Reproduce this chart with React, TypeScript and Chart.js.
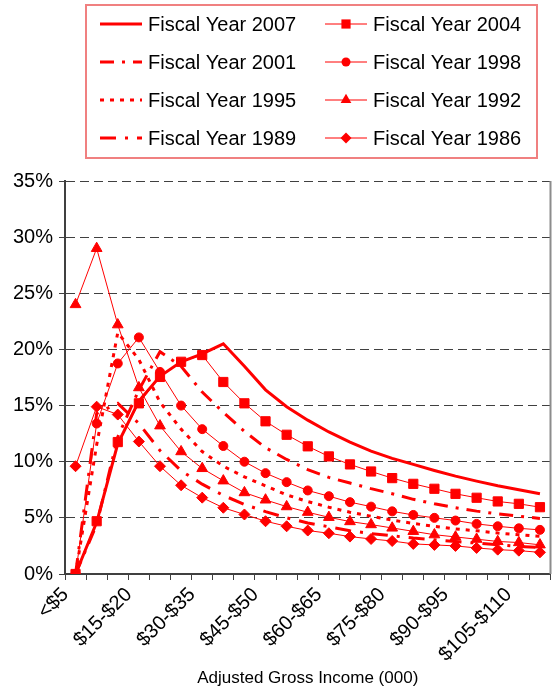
import React, { useEffect, useRef } from 'react';
import { Chart, registerables } from 'chart.js';

Chart.register(...registerables);

const categories = [
  '<$5', '$5-$10', '$10-$15', '$15-$20', '$20-$25', '$25-$30', '$30-$35', '$35-$40',
  '$40-$45', '$45-$50', '$50-$55', '$55-$60', '$60-$65', '$65-$70', '$70-$75', '$75-$80',
  '$80-$85', '$85-$90', '$90-$95', '$95-$100', '$100-$105', '$105-$110', '>$110',
];

const yTicks = [0, 5, 10, 15, 20, 25, 30, 35];

const fy2007 = [0, 4.6, 11.6, 15.4, 17.6, 18.9, 19.6, 20.5, 18.5, 16.4, 14.9, 13.7, 12.65, 11.75, 10.95, 10.3, 9.76, 9.22, 8.72, 8.27, 7.86, 7.5, 7.14];
const fy2004 = [0, 4.7, 11.75, 15.2, 17.55, 18.9, 19.5, 17.1, 15.2, 13.6, 12.4, 11.37, 10.47, 9.76, 9.13, 8.54, 8.03, 7.59, 7.14, 6.79, 6.46, 6.25, 5.95];
const fy2001 = [0, 4.4, 12.2, 16.4, 19.8, 18.5, 16.2, 14.4, 12.7, 11.25, 10.2, 9.3, 8.6, 8.1, 7.6, 7.15, 6.65, 6.25, 5.9, 5.6, 5.35, 5.15, 4.95];
const fy1998 = [0, 13.4, 18.75, 21.07, 18.0, 15.0, 12.9, 11.4, 10.0, 8.98, 8.18, 7.44, 6.93, 6.4, 6.0, 5.58, 5.26, 5.0, 4.76, 4.46, 4.25, 4.07, 3.93];
const fy1995 = [0, 11.5, 21.5, 19.1, 15.3, 12.9, 10.9, 9.6, 8.65, 7.85, 7.05, 6.45, 5.95, 5.5, 5.15, 4.8, 4.5, 4.25, 4.02, 3.85, 3.65, 3.5, 3.35];
const fy1992 = [24.0, 29.0, 22.2, 16.6, 13.2, 10.9, 9.4, 8.3, 7.25, 6.6, 6.0, 5.5, 5.05, 4.67, 4.4, 4.1, 3.8, 3.5, 3.3, 3.1, 2.9, 2.8, 2.6];
const fy1989 = [0, 14.3, 15.2, 13.4, 11.0, 9.2, 8.0, 7.0, 6.2, 5.55, 5.0, 4.55, 4.2, 3.85, 3.6, 3.4, 3.2, 3.05, 2.9, 2.75, 2.6, 2.45, 2.35];
const fy1986 = [9.6, 14.9, 14.2, 11.8, 9.6, 7.9, 6.8, 5.9, 5.3, 4.7, 4.25, 3.87, 3.63, 3.33, 3.12, 2.94, 2.68, 2.59, 2.5, 2.32, 2.17, 2.08, 1.93];

const seriesLabels = [
  'Fiscal Year 2007', 'Fiscal Year 2004', 'Fiscal Year 2001', 'Fiscal Year 1998',
  'Fiscal Year 1995', 'Fiscal Year 1992', 'Fiscal Year 1989', 'Fiscal Year 1986',
];
const seriesData = [fy2007, fy2004, fy2001, fy1998, fy1995, fy1992, fy1989, fy1986];

const RED = '#ff0000';
const FONT = "'Liberation Sans', Arial, sans-serif";

type Style = { width: number; dash: number[]; point: string | null; radius: number };
const styles: Style[] = [
  { width: 3, dash: [], point: null, radius: 0 },
  { width: 1, dash: [], point: 'rect', radius: 6.5 },
  { width: 3, dash: [14, 8, 3, 8], point: null, radius: 0 },
  { width: 1, dash: [], point: 'circle', radius: 4.5 },
  { width: 3, dash: [4, 6], point: null, radius: 0 },
  { width: 1, dash: [], point: 'triangle', radius: 6.2 },
  { width: 3, dash: [16, 9, 3, 9], point: null, radius: 0 },
  { width: 1, dash: [], point: 'rectRot', radius: 5.5 },
];

function drawMarker(ctx: CanvasRenderingContext2D, style: string, x: number, y: number, r: number) {
  ctx.beginPath();
  if (style === 'rect') {
    const s = r * Math.SQRT1_2;
    ctx.rect(x - s, y - s, 2 * s, 2 * s);
  } else if (style === 'circle') {
    ctx.arc(x, y, r, 0, Math.PI * 2);
  } else if (style === 'triangle') {
    ctx.moveTo(x, y - r);
    ctx.lineTo(x + 0.866 * r, y + 0.5 * r);
    ctx.lineTo(x - 0.866 * r, y + 0.5 * r);
    ctx.closePath();
  } else if (style === 'rectRot') {
    ctx.moveTo(x - r, y);
    ctx.lineTo(x, y - r);
    ctx.lineTo(x + r, y);
    ctx.lineTo(x, y + r);
    ctx.closePath();
  }
  ctx.fill();
}

const boxLegend = {
  id: 'boxLegend',
  afterDraw(chart: any) {
    const ctx: CanvasRenderingContext2D = chart.ctx;
    const area = chart.chartArea;
    ctx.save();
    ctx.strokeStyle = '#8c8c8c';
    ctx.lineWidth = 2;
    ctx.setLineDash([]);
    ctx.beginPath();
    ctx.moveTo(area.right, area.top);
    ctx.lineTo(area.right, area.bottom);
    ctx.stroke();

    ctx.strokeStyle = 'rgb(240,128,128)';
    ctx.lineWidth = 2;
    ctx.strokeRect(86, 5, 451, 153);

    const cols = [100, 325];
    const rowY0 = 24;
    const rowGap = 38;
    chart.data.datasets.forEach((ds: any, i: number) => {
      const st = styles[i];
      const x0 = cols[i % 2];
      const y = rowY0 + Math.floor(i / 2) * rowGap;
      ctx.strokeStyle = RED;
      ctx.fillStyle = RED;
      ctx.lineWidth = st.width;
      ctx.setLineDash(st.dash);
      ctx.beginPath();
      ctx.moveTo(x0, y);
      ctx.lineTo(x0 + 42, y);
      ctx.stroke();
      ctx.setLineDash([]);
      if (st.point) drawMarker(ctx, st.point, x0 + 21, y, st.radius);
      ctx.fillStyle = '#000';
      ctx.font = `20px ${FONT}`;
      ctx.textBaseline = 'middle';
      ctx.textAlign = 'left';
      ctx.fillText(ds.label, x0 + 48, y + 1);
    });
    ctx.restore();
  },
};

export default function App() {
  const ref = useRef<HTMLCanvasElement | null>(null);
  useEffect(() => {
    if (!ref.current) return;
    const chart = new Chart(ref.current, {
      type: 'line',
      data: {
        labels: categories,
        datasets: seriesData.map((d, i) => ({
          label: seriesLabels[i],
          data: d,
          borderColor: RED,
          backgroundColor: RED,
          borderWidth: styles[i].width,
          borderDash: styles[i].dash,
          borderCapStyle: 'butt',
          borderJoinStyle: 'miter',
          tension: 0,
          fill: false,
          pointStyle: (styles[i].point || 'circle') as any,
          pointRadius: styles[i].radius,
          pointBorderWidth: styles[i].point ? 1 : 0,
          pointBorderColor: RED,
          pointBackgroundColor: RED,
          pointHoverRadius: styles[i].radius,
        })),
      },
      options: {
        animation: false,
        responsive: false,
        devicePixelRatio: 1,
        layout: { padding: { top: 181, right: 3, bottom: 0, left: 0 } },
        plugins: {
          legend: { display: false },
          tooltip: { enabled: false },
          title: { display: false },
        },
        scales: {
          x: {
            type: 'category',
            offset: true,
            afterFit: (scale: any) => {
              scale.height = 116;
              scale.paddingLeft = 0;
              scale.paddingRight = 0;
            },
            grid: {
              offset: true,
              drawOnChartArea: false,
              drawTicks: true,
              tickLength: 6,
              tickColor: '#404040',
              tickWidth: 1,
            },
            border: { display: true, color: '#404040', width: 2 },
            ticks: {
              autoSkip: false,
              maxRotation: 45,
              minRotation: 45,
              padding: 3,
              labelOffset: -10,
              color: '#000',
              font: { family: FONT, size: 20 },
              callback: (_v: any, index: number) => (index % 3 === 0 ? categories[index] : ''),
            },
            title: {
              display: true,
              text: 'Adjusted Gross Income (000)',
              color: '#000',
              font: { family: FONT, size: 17 },
              padding: { top: 0, bottom: 1 },
            },
          },
          y: {
            min: 0,
            max: 35,
            afterFit: (scale: any) => {
              scale.width = 65;
              scale.paddingTop = 0;
              scale.paddingBottom = 0;
            },
            afterBuildTicks: (scale: any) => { scale.ticks = yTicks.map((v) => ({ value: v })); },
            grid: {
              color: '#404040',
              lineWidth: 1,
              drawTicks: true,
              tickLength: 6,
              tickColor: '#404040',
              tickWidth: 1,
              tickBorderDash: [],
            },
            border: { display: true, color: '#404040', width: 2, dash: [9, 5] },
            ticks: {
              padding: 6,
              color: '#000',
              font: { family: FONT, size: 20 },
              callback: (v: any) => `${v}%`,
            },
          },
        },
      },
      plugins: [boxLegend],
    });
    return () => chart.destroy();
  }, []);
  return (
    <div style={{ position: 'absolute', left: 0, top: 0, width: 558, height: 690, background: '#fff' }}>
      <canvas ref={ref} width={558} height={690} style={{ width: 558, height: 690 }} />
    </div>
  );
}
